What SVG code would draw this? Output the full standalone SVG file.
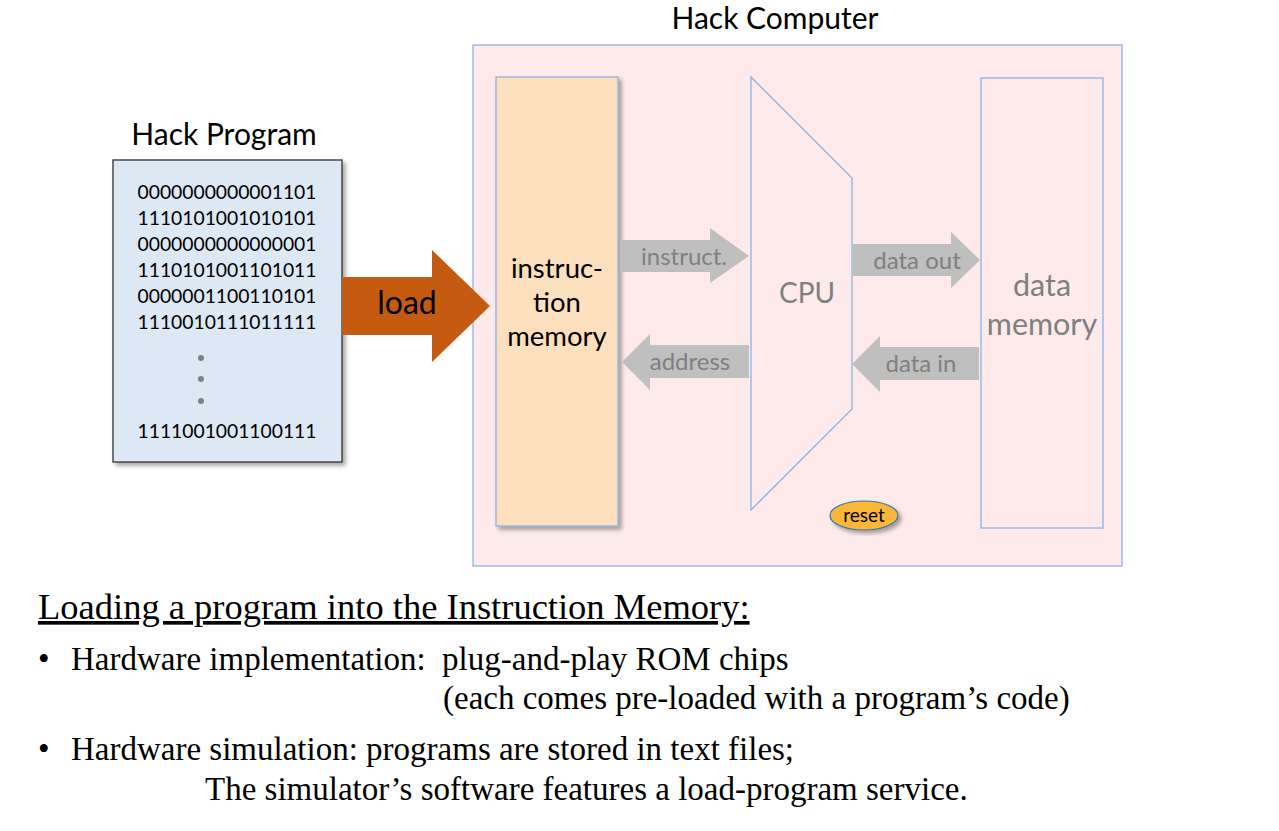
<svg xmlns="http://www.w3.org/2000/svg" width="1279" height="831" viewBox="0 0 1279 831">
<style>
.sans{font-family:Lato,"Open Sans","Liberation Sans",sans-serif}
.serif{font-family:"Liberation Serif","Times New Roman",serif;fill:#000}
.title{font-size:30px;fill:#000;text-anchor:middle}
.bin{font-size:19.3px;fill:#000;text-anchor:middle}
.lbl{font-size:24px;fill:#808080;text-anchor:middle}
.big{font-size:30.5px;fill:#808080;text-anchor:middle}
.blk{font-size:27.5px;fill:#000;text-anchor:middle}
.garrow{fill:#bfbfbf}
.edge{fill:none;stroke:#8db3e2;stroke-width:1.3}
.b1{font-size:33px}
</style>
<defs>
<filter id="sh" x="-10%" y="-10%" width="130%" height="130%">
<feDropShadow dx="3" dy="3" stdDeviation="2" flood-color="#000" flood-opacity="0.35"/>
</filter>
</defs>
<rect width="1279" height="831" fill="#fff"/>

<g id="hack-program">
<text class="sans title" x="224" y="145">Hack Program</text>
<rect x="113" y="160" width="229" height="302" fill="#dde8f5" stroke="#333" stroke-width="1.3" filter="url(#sh)"/>
<text class="sans bin" x="227" y="199">0000000000001101</text>
<text class="sans bin" x="227" y="225">1110101001010101</text>
<text class="sans bin" x="227" y="251">0000000000000001</text>
<text class="sans bin" x="227" y="277">1110101001101011</text>
<text class="sans bin" x="227" y="303">0000001100110101</text>
<text class="sans bin" x="227" y="329">1110010111011111</text>
<circle cx="201" cy="358" r="3" fill="#808080"/>
<circle cx="201" cy="379" r="3" fill="#808080"/>
<circle cx="201" cy="401" r="3" fill="#808080"/>
<text class="sans bin" x="227" y="438">1111001001100111</text>
</g>

<g id="hack-computer">
<text class="sans title" x="775" y="29">Hack Computer</text>
<rect x="473" y="45" width="649" height="521" fill="#feeaea" stroke="#8db3e2" stroke-width="1.3"/>
</g>

<g id="instruction-memory">
<rect x="496" y="77" width="122" height="449" fill="#fcdfbd" stroke="#8db3e2" stroke-width="1.3" filter="url(#sh)"/>
<text class="sans blk" x="557" y="278">instruc-</text>
<text class="sans blk" x="557" y="312">tion</text>
<text class="sans blk" x="557" y="346">memory</text>
</g>

<g id="cpu">
<polygon class="edge" points="751,77 852,178 852,409 751,510"/>
<text class="sans big" x="807" y="303" style="font-size:28px">CPU</text>
</g>

<g id="data-memory">
<rect class="edge" x="981" y="78" width="122" height="450"/>
<text class="sans big" x="1042" y="296">data</text>
<text class="sans big" x="1042" y="335">memory</text>
</g>

<g id="reset">
<ellipse cx="864" cy="515.5" rx="34" ry="14.5" fill="#fbb735" stroke="#2e75b6" stroke-width="1.2" filter="url(#sh)"/>
<text class="sans" x="864" y="522" font-size="19" text-anchor="middle" fill="#000">reset</text>
</g>

<g id="connectors">
<g id="load-arrow">
<polygon points="342,277 432,277 432,250 490,306 432,362 432,335 342,335" fill="#c55a11"/>
<text class="sans" x="407" y="314" font-size="32" text-anchor="middle" fill="#000">load</text>
</g>
<g id="instruct-arrow">
<polygon class="garrow" points="620,240 710,240 710,228 749,256 710,283 710,272 620,272"/>
<text class="sans lbl" x="684" y="265">instruct.</text>
</g>
<g id="address-arrow">
<polygon class="garrow" points="749,345 650,345 650,334 622,362 650,390 650,378 749,378"/>
<text class="sans lbl" x="690" y="370">address</text>
</g>
<g id="data-out-arrow">
<polygon class="garrow" points="853,244 951,244 951,232 980,260 951,288 951,276 853,276"/>
<text class="sans lbl" x="917" y="269">data out</text>
</g>
<g id="data-in-arrow">
<polygon class="garrow" points="979,347 880,347 880,336 852,364 880,392 880,380 979,380"/>
<text class="sans lbl" x="921" y="372">data in</text>
</g>
</g>

<g id="notes">
<text class="serif" x="38" y="619" font-size="36.5" text-decoration="underline">Loading a program into the Instruction Memory:</text>
<text class="serif b1" x="38" y="670">•</text>
<text class="serif b1" x="71" y="670" xml:space="preserve">Hardware implementation:  plug-and-play ROM chips</text>
<text class="serif b1" x="443" y="709">(each comes pre-loaded with a program’s code)</text>
<text class="serif b1" x="38" y="760">•</text>
<text class="serif b1" x="71" y="760">Hardware simulation: programs are stored in text files;</text>
<text class="serif b1" x="205" y="800">The simulator’s software features a load-program service.</text>
</g>
</svg>
